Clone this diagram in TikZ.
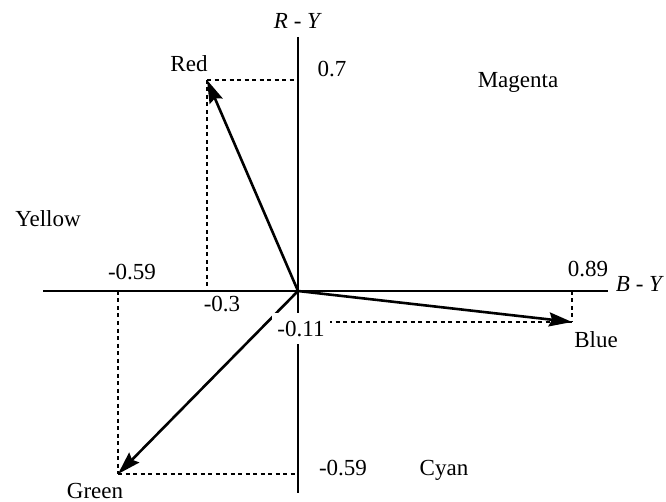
\documentclass[tikz,border=0pt]{standalone}
\usepackage{fontspec}
\setmainfont{Liberation Serif}
\usetikzlibrary{arrows.meta}
\begin{document}
\begin{tikzpicture}[x=1pt,y=-1pt,
  axis/.style={line width=2.8pt},
  vec/.style={line width=2.6pt,-{Stealth[length=23pt,width=14pt,inset=3pt]}},
  guide/.style={line width=2.5pt,dash pattern=on 4pt off 3.5pt},
  lbl/.style={anchor=base,inner sep=0pt,font=\fontsize{23}{27}\selectfont}]
\useasboundingbox (0,0) rectangle (666,502);
% axes
\coordinate (O) at (298,291);
\coordinate (xl) at (43,291);
\coordinate (xr) at (608,291);
\coordinate (yt) at (298,37);
\coordinate (yb) at (298,493);
\draw[axis] (xl) -- (xr);
\draw[axis] (yt) -- (yb);
% tips
\coordinate (R) at (207,80);
\coordinate (G) at (118,474);
\coordinate (B) at (572,322);
\coordinate (Rx) at (207,291);
\coordinate (Ry) at (298,80);
\coordinate (Gx) at (118,291);
\coordinate (Gy) at (298,474);
\coordinate (Bx) at (572,291);
\coordinate (By) at (298,322);
% guides
\draw[guide] (R) -- (Ry);
\draw[guide] (R) -- (Rx);
\draw[guide] (G) -- (Gy);
\draw[guide] (Gx) -- (G);
\draw[guide] (Bx) -- (B);
\draw[guide] (By) -- (B);
% vectors
\draw[vec] (O) -- (R);
\draw[vec] (O) -- (G);
\draw[vec] (O) -- (B);
% labels
\node[lbl] (ry) at (298,29) {\textit{R - Y}};
\node[lbl] (by) at (640,292) {\textit{B - Y}};
\node[lbl] (red) at (189,72) {Red};
\node[lbl] (v07) at (332,77) {0.7};
\node[lbl] (mag) at (518,88) {Magenta};
\node[lbl] (yel) at (48,227) {Yellow};
\node[lbl] (m059a) at (132,280) {-0.59};
\node[lbl] (m03) at (222,312) {-0.3};
\node[lbl] (v089) at (588,277) {0.89};
\node[lbl,fill=white,inner xsep=5pt,inner ysep=8pt] (m011) at (301,336) {-0.11};
\node[lbl] (blue) at (596,347) {Blue};
\node[lbl] (m059b) at (343,475) {-0.59};
\node[lbl] (cyan) at (444,475) {Cyan};
\node[lbl] (green) at (95,498) {Green};
\end{tikzpicture}
\end{document}
